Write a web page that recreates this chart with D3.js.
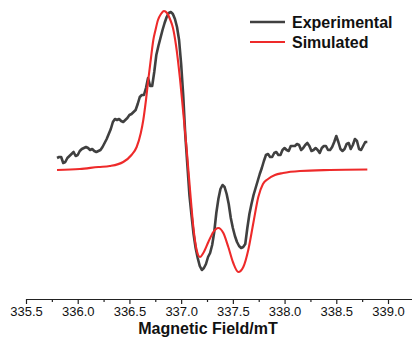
<!doctype html>
<html>
	<head>
		<title>EPR spectrum</title>
		<meta charset="utf-8" />
		<script src="https://cdn.jsdelivr.net/npm/d3@7"></script>
		<style>
			body { margin: 0; background: #fff; }
			svg { display: block; font-family: "Liberation Sans", Arial, sans-serif; }
		</style>
	</head>
	<body>
		<section id="chart"></section>
		<script>
			// field in mT, signal in arbitrary units
			var expField = [
				335.80,335.82,335.84,335.86,335.88,335.90,335.92,335.94,335.96,335.98,
				336.00,336.02,336.04,336.06,336.08,336.10,336.12,336.14,336.16,336.18,
				336.20,336.22,336.24,336.26,336.28,336.30,336.32,336.34,336.36,336.38,
				336.40,336.42,336.44,336.46,336.48,336.50,336.52,336.54,336.56,336.58,
				336.60,336.62,336.64,336.66,336.68,336.70,336.72,336.74,336.76,336.78,
				336.80,336.82,336.84,336.86,336.88,336.90,336.92,336.94,336.96,336.98,
				337.00,337.02,337.04,337.06,337.08,337.10,337.12,337.14,337.16,337.18,
				337.20,337.22,337.24,337.26,337.28,337.30,337.32,337.34,337.36,337.38,
				337.40,337.42,337.44,337.46,337.48,337.50,337.52,337.54,337.56,337.58,
				337.60,337.62,337.64,337.66,337.68,337.70,337.72,337.74,337.76,337.78,
				337.80,337.82,337.84,337.86,337.88,337.90,337.92,337.94,337.96,337.98,
				338.00,338.02,338.04,338.06,338.08,338.10,338.12,338.14,338.16,338.18,
				338.20,338.22,338.24,338.26,338.28,338.30,338.32,338.34,338.36,338.38,
				338.40,338.42,338.44,338.46,338.48,338.50,338.52,338.54,338.56,338.58,
				338.60,338.62,338.64,338.66,338.68,338.70,338.72,338.74,338.76,338.78,
				338.80
			];
			var expSignal = [
				11,12,12,6,7,11,13,15,17,13,
				14,18,20,21,22,21,19,20,18,17,
				18,19,22,26,30,35,40,47,50,49,
				50,48,47,49,51,54,55,57,59,65,
				72,74,74,81,91,83,83,97,114,123,
				131,139,146,152,156,157,155,150,142,129,
				105,74,34,4,-26,-46,-65,-79,-89,-97,
				-101,-99,-95,-88,-84,-76,-63,-44,-30,-20,
				-16,-18,-25,-35,-49,-59,-67,-73,-77,-79,
				-78,-75,-59,-45,-35,-26,-19,-12,-5,1,
				8,14,15,12,12,16,17,14,14,19,
				21,19,18,23,23,23,25,24,19,21,
				24,26,23,18,19,21,19,16,21,23,
				23,19,19,22,27,33,27,20,18,20,
				25,26,20,24,30,28,20,19,23,27,
				27
			];
			var simField = [335.80,336.02,336.20,336.31,336.44,336.52,336.57,336.61,336.634,336.66,
				336.682,336.706,336.731,336.752,336.776,336.805,336.834,336.863,336.892,336.921,
				336.950,336.989,337.018,337.054,337.086,337.118,337.150,337.182,337.214,337.263,
				337.311,337.359,337.408,337.456,337.504,337.553,337.601,337.649,337.698,337.746,
				337.791,337.840,337.907,337.985,338.149,338.439,338.80];
			var simSignal = [-1,0,2,3,7,14,22,36,49,69,
				89,109,129,139,149,155,158,156,150,141,
				124,90,59,19,-21,-58,-81,-88,-84,-73,
				-63,-59,-64,-78,-94,-103,-98,-81,-54,-28,
				-15,-10,-6,-4,-2,-1,-0.5];
			var xTicks = [335.5, 336.0, 336.5, 337.0, 337.5, 338.0, 338.5, 339.0];
			var xMinorTicks = [335.75, 336.25, 336.75, 337.25, 337.75, 338.25, 338.75, 339.25];
			var seriesNames = ['Experimental', 'Simulated'];
			var seriesColors = ['#404040', '#ee2a2a'];

			var width = 412, height = 342;
			var x = d3.scaleLinear().domain([335.5, 339.232]).range([26, 412]);
			var y = d3.scaleLinear().domain([-110, 160]).range([279, 9]);

			var svg = d3.select('#chart')
				.append('svg')
					.attr('width', width)
					.attr('height', height);

			// x axis
			var axisY = 299;
			var gx = svg.append('g')
				.attr('transform', 'translate(0,' + axisY + ')')
				.call(d3.axisBottom(x).tickValues(xTicks).tickSize(5).tickSizeOuter(0)
					.tickFormat(function (d) { return d.toFixed(1); }));
			gx.select('.domain').attr('stroke', '#222').attr('stroke-width', 1.2);
			gx.selectAll('.tick line').attr('stroke', '#222').attr('stroke-width', 1.2);
			gx.selectAll('.tick text')
				.attr('y', 17).attr('dy', 0)
				.attr('fill', '#111')
				.style('font-size', '13px');
			svg.append('g')
				.attr('transform', 'translate(0,' + axisY + ')')
				.call(d3.axisBottom(x).tickValues(xMinorTicks).tickSize(3).tickSizeOuter(0).tickFormat(''))
				.call(function (g) {
					g.select('.domain').remove();
					g.selectAll('.tick line').attr('stroke', '#222').attr('stroke-width', 1.2);
				});

			svg.append('text')
				.attr('x', 208)
				.attr('y', 334)
				.attr('text-anchor', 'middle')
				.style('font-size', '16px')
				.style('font-weight', 'bold')
				.attr('fill', '#111')
				.text('Magnetic Field/mT');

			// curves
			var expLine = d3.line()
				.x(function (d, i) { return x(expField[i]); })
				.y(function (d) { return y(d); });
			var simLine = d3.line()
				.x(function (d, i) { return x(simField[i]); })
				.y(function (d) { return y(d); })
				.curve(d3.curveMonotoneX);

			svg.append('path')
				.datum(expSignal)
				.attr('d', expLine)
				.attr('fill', 'none')
				.attr('stroke', seriesColors[0])
				.attr('stroke-width', 2.6)
				.attr('stroke-linejoin', 'round');
			svg.append('path')
				.datum(simSignal)
				.attr('d', simLine)
				.attr('fill', 'none')
				.attr('stroke', seriesColors[1])
				.attr('stroke-width', 2.1);

			// legend
			var legend = svg.append('g').attr('transform', 'translate(250,22)');
			seriesNames.forEach(function (name, i) {
				legend.append('line')
					.attr('x1', 0).attr('x2', 35)
					.attr('y1', i * 20).attr('y2', i * 20)
					.attr('stroke', seriesColors[i])
					.attr('stroke-width', i === 0 ? 2.6 : 2.1);
				legend.append('text')
					.attr('x', 42)
					.attr('y', i * 20 + 6)
					.style('font-size', '16px')
					.style('font-weight', 'bold')
					.attr('fill', '#111')
					.text(name);
			});
		</script>
	</body>
</html>
